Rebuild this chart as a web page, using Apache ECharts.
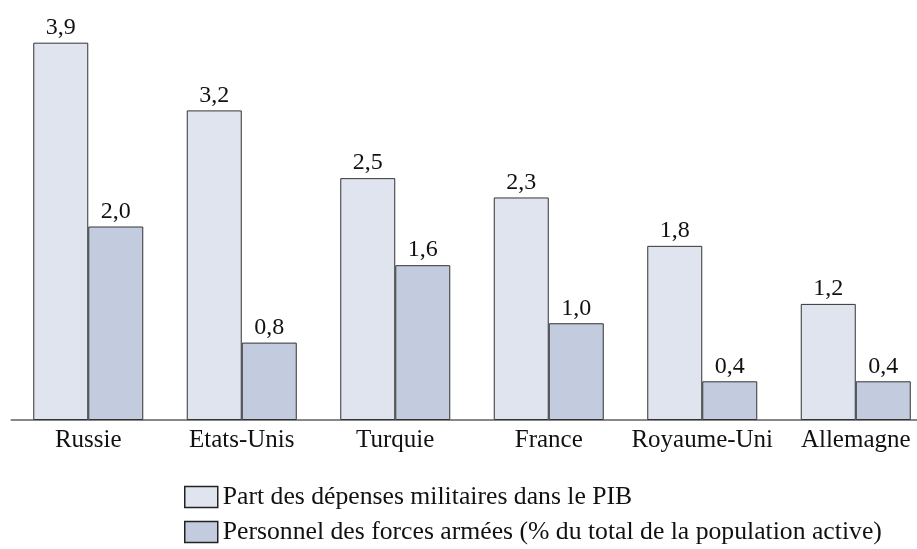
<!DOCTYPE html>
<html>
<head>
<meta charset="utf-8">
<script src="https://cdn.jsdelivr.net/npm/echarts@6/dist/echarts.min.js"></script>
<style>
  html, body { margin: 0; padding: 0; background: #fff; overflow: hidden; }
  /* le graphique d'origine est coupé à droite : conteneur un peu plus large */
  #main { width: 940px; height: 549px; }
</style>
</head>
<body>
<div id="main"></div>
<script>
// données
var pays = ['Russie', 'Etats-Unis', 'Turquie', 'France', 'Royaume-Uni', 'Allemagne'];
var depensesPIB = [3.9, 3.2, 2.5, 2.3, 1.8, 1.2];
var personnelForces = [2.0, 0.8, 1.6, 1.0, 0.4, 0.4];
var nomsSeries = ['Part des dépenses militaires dans le PIB',
                  'Personnel des forces armées (% du total de la population active)'];

var police = '"Liberation Serif", "DejaVu Serif", serif';
var chart = echarts.init(document.getElementById('main'));

function etiquette(p) { return p.value.toFixed(1).replace('.', ','); }

var option = {
    animation: false,
    textStyle: { fontFamily: police },
    grid: { left: 11.5, width: 921, top: 33, height: 387, containLabel: false },
    legend: {
        orient: 'vertical',
        left: 184,
        top: 484,
        height: 70,
        padding: 0,
        icon: 'rect',
        itemWidth: 33,
        itemHeight: 21,
        itemGap: 9,
        itemStyle: { borderColor: '#222', borderWidth: 1.5 },
        textStyle: { fontFamily: police, fontSize: 25.7, color: '#111' },
        data: nomsSeries
    },
    xAxis: {
        type: 'category',
        data: pays,
        axisLine: { lineStyle: { color: '#888', width: 2 } },
        axisTick: { show: false },
        axisLabel: { interval: 0, fontFamily: police, fontSize: 25, color: '#111', margin: 8 }
    },
    yAxis: {
        type: 'value',
        min: 0,
        max: 4,
        show: false,
        splitLine: { show: false }
    },
    series: [{
        name: nomsSeries[0],
        type: 'bar',
        barWidth: 55,
        barGap: '0%',
        data: depensesPIB,
        itemStyle: { color: '#dfe4ee', borderColor: '#333', borderWidth: 1 },
        label: { show: true, position: 'top', distance: 3, formatter: etiquette,
                 fontFamily: police, fontSize: 24, color: '#111' }
    }, {
        name: nomsSeries[1],
        type: 'bar',
        barWidth: 55,
        barGap: '0%',
        data: personnelForces,
        itemStyle: { color: '#c3ccde', borderColor: '#333', borderWidth: 1 },
        label: { show: true, position: 'top', distance: 3, formatter: etiquette,
                 fontFamily: police, fontSize: 24, color: '#111' }
    }]
};
chart.setOption(option);
</script>
</body>
</html>
